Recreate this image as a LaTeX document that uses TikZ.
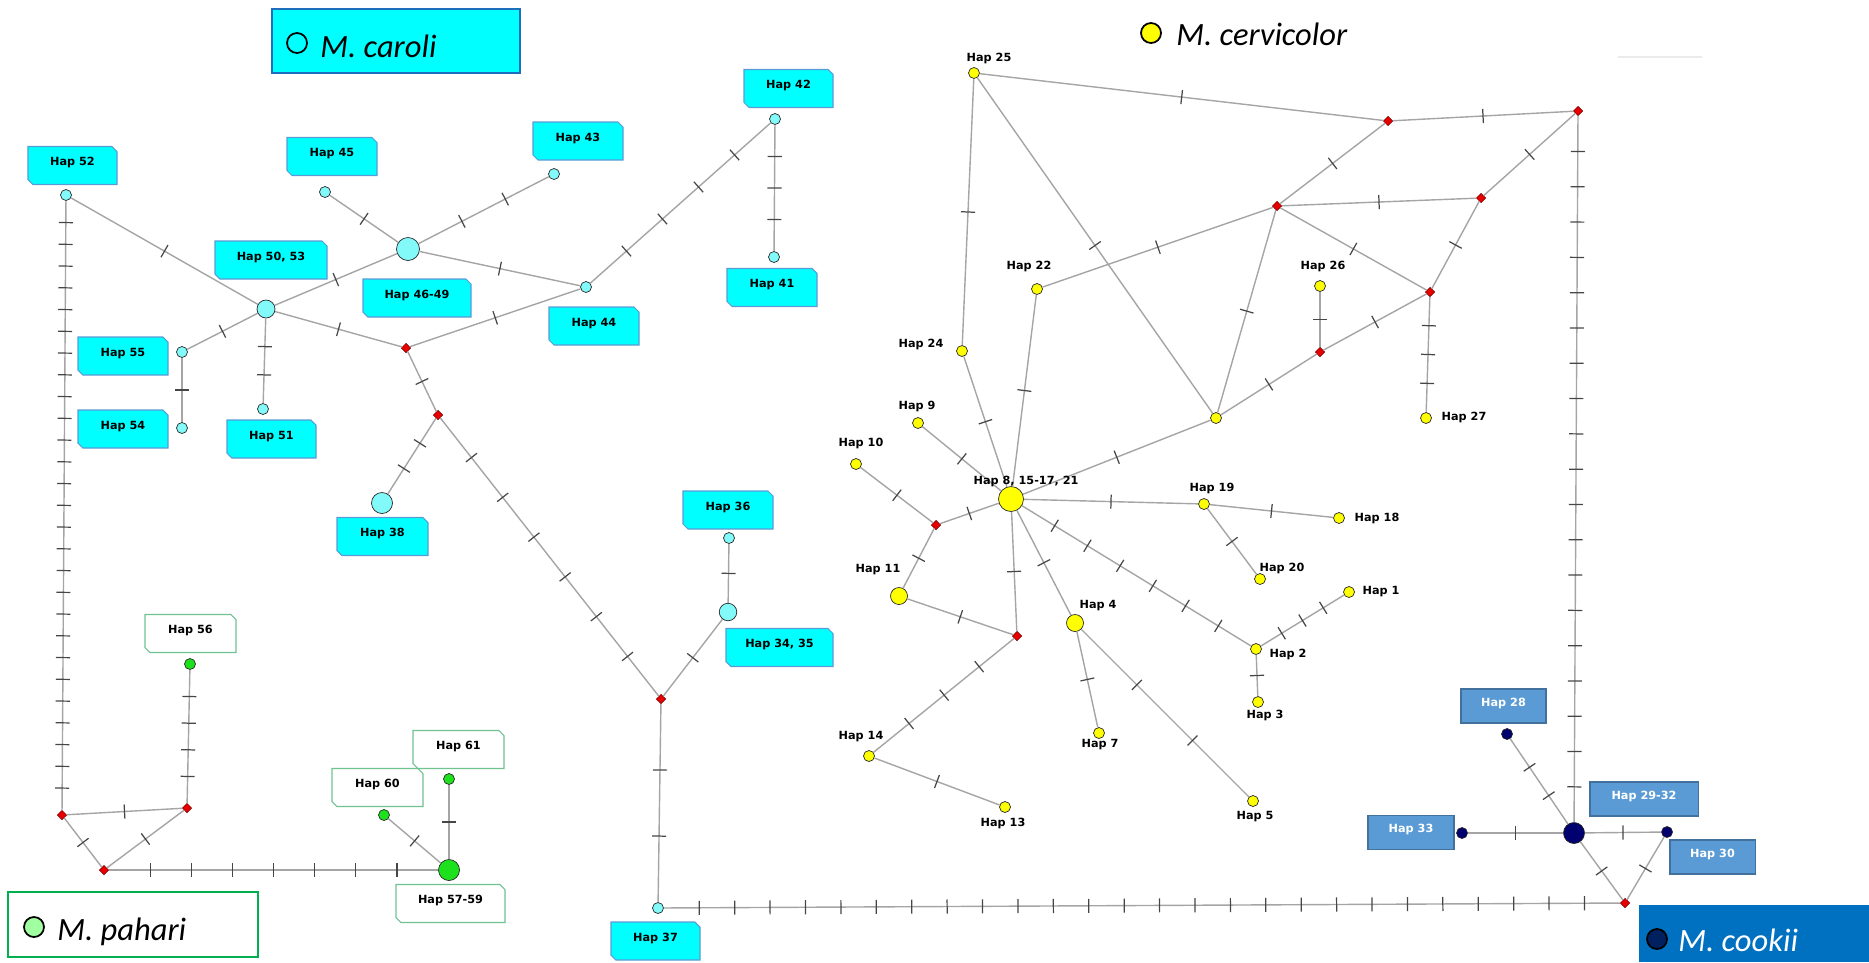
\documentclass[tikz,border=0pt]{standalone}
\usepackage{fontspec}
\usetikzlibrary{shapes.geometric,shapes.misc,decorations.markings}
\newfontfamily\hapfont{DejaVu Sans}
\newfontfamily\legfont{Carlito}
\definecolor{edgec}{RGB}{165,165,165}
\definecolor{tickc}{RGB}{70,70,70}
\definecolor{nodeline}{RGB}{40,40,40}
\definecolor{carfill}{RGB}{130,250,250}
\definecolor{carbox}{RGB}{0,255,255}
\definecolor{carline}{RGB}{91,155,213}
\definecolor{pahfill}{RGB}{30,225,30}
\definecolor{pahline}{RGB}{110,195,145}
\definecolor{cerfill}{RGB}{255,255,0}
\definecolor{coofill}{RGB}{0,0,110}
\definecolor{coobox}{RGB}{91,155,213}
\definecolor{cooline}{RGB}{65,113,156}
\definecolor{mvfill}{RGB}{230,0,0}
\definecolor{mvline}{RGB}{120,0,0}
\definecolor{legblue}{RGB}{30,110,190}
\definecolor{leggreen}{RGB}{0,176,80}
\definecolor{cookiibg}{RGB}{0,112,192}
\definecolor{cookiidot}{RGB}{0,32,96}
\definecolor{pahdot}{RGB}{160,255,160}

\begin{document}
\begin{tikzpicture}[x=0.2mm,y=-0.2mm,
    hap/.style={circle,draw=nodeline,line width=0.4pt,inner sep=0pt,minimum size=2.2mm},
    car/.style={hap,fill=carfill},
    pah/.style={hap,fill=pahfill},
    cer/.style={hap,fill=cerfill},
    coo/.style={hap,fill=coofill},
    mv/.style={diamond,draw=mvline,fill=mvfill,line width=0.3pt,inner sep=0pt,
               minimum width=1.9mm,minimum height=1.9mm},
    lab/.style={font=\hapfont\bfseries\fontsize{6.4}{7}\selectfont,inner sep=0pt},
    lcar/.style={lab,chamfered rectangle,chamfered rectangle corners={north east,south west},
                 chamfered rectangle xsep=0.5mm,chamfered rectangle ysep=0.5mm,
                 draw=carline,fill=carbox,line width=0.6pt,
                 minimum width=18mm,minimum height=7.6mm,text height=2mm,text depth=2mm},
    lpah/.style={lcar,draw=pahline,fill=white},
    lcoo/.style={lab,rectangle,draw=cooline,fill=coobox,text=white,line width=0.6pt,
                 minimum width=17mm,minimum height=6.8mm,text height=2mm,text depth=2mm},
    legdot/.style={circle,draw=black,line width=1pt,inner sep=0pt,minimum size=4mm},
    legtxt/.style={font=\legfont\itshape\fontsize{18.5}{20}\selectfont,inner sep=0pt,anchor=base west},
    mut/.style={postaction={decorate,decoration={markings,
        mark=between positions 1/(#1+1) and #1/(#1+1)+0.002 step 1/(#1+1)
        with {\draw[tickc,line width=0.7pt] (0,-4pt) -- (0,4pt);}}}},
    every edge/.style={draw=edgec,line width=0.8pt}]

  \useasboundingbox (0,0) rectangle (1869,962);

  % legends
  \node[draw=legblue,fill=carbox,line width=1pt,minimum width=49.6mm,minimum height=12.8mm] (gcar) at (396,41) {};
  \node[legdot,fill=carbox] (dcar) at (297,43) {};
  \node[legtxt] (tcar) at (320,57) {M. caroli};
  \node[legdot,fill=cerfill] (dcer) at (1151,33) {};
  \node[legtxt] (tcer) at (1176,45) {M. cervicolor};
  \node[draw=leggreen,fill=white,line width=1pt,minimum width=50mm,minimum height=13mm] (gpah) at (133,924.5) {};
  \node[legdot,fill=pahdot] (dpah) at (34,927) {};
  \node[legtxt] (tpah) at (57,940) {M. pahari};
  \node[fill=cookiibg,outer sep=0pt,minimum width=46mm,minimum height=11.4mm] (gcoo) at (1754,933.5) {};
  \node[legdot,fill=cookiidot] (dcoo) at (1657,939) {};
  \node[legtxt,text=white] (tcoo) at (1678,951) {M. cookii};
  \draw[black!8,line width=0.6pt] (1618,57) -- (1702,57);

  % M. caroli
  \node[car]                   (h52)   at (66,195)  {};
  \node[car]                   (h45)   at (325,192) {};
  \node[car]                   (h43)   at (554,174) {};
  \node[car,minimum size=4.6mm] (h4649) at (408,249) {};
  \node[car,minimum size=3.6mm] (h5053) at (266,309) {};
  \node[car]                   (h44)   at (586,287) {};
  \node[car]                   (h55)   at (182,352) {};
  \node[car]                   (h54)   at (182,428) {};
  \node[car]                   (h51)   at (263,409) {};
  \node[car,minimum size=4.2mm] (h38)   at (382,503) {};
  \node[car]                   (h42)   at (775,119) {};
  \node[car]                   (h41)   at (774,257) {};
  \node[car]                   (h36)   at (729,538) {};
  \node[car,minimum size=3.5mm] (h3435) at (728,612) {};
  \node[car]                   (h37)   at (658,908) {};

  % M. pahari
  \node[pah]                   (h56)   at (190,664) {};
  \node[pah,minimum size=4.2mm] (h5759) at (449,870) {};
  \node[pah]                   (h60)   at (384,815) {};
  \node[pah]                   (h61)   at (449,779) {};

  % M. cervicolor
  \node[cer]                   (h25) at (974,73)   {};
  \node[cer]                   (h22) at (1037,289) {};
  \node[cer]                   (h24) at (962,351)  {};
  \node[cer]                   (h9)  at (918,423)  {};
  \node[cer]                   (h10) at (856,464)  {};
  \node[cer]                   (y1)  at (1216,418) {};
  \node[cer]                   (h26) at (1320,286) {};
  \node[cer]                   (h27) at (1426,418) {};
  \node[cer,minimum size=5mm]  (hub) at (1011,499) {};
  \node[cer]                   (h19) at (1204,504) {};
  \node[cer]                   (h18) at (1339,518) {};
  \node[cer]                   (h20) at (1260,579) {};
  \node[cer]                   (h1)  at (1349,592) {};
  \node[cer]                   (h2)  at (1256,649) {};
  \node[cer]                   (h3)  at (1258,702) {};
  \node[cer]                   (h5)  at (1253,801) {};
  \node[cer,minimum size=3.4mm] (h11) at (899,596) {};
  \node[cer,minimum size=3.4mm] (h4)  at (1075,623) {};
  \node[cer]                   (h7)  at (1099,733) {};
  \node[cer]                   (h14) at (869,756)  {};
  \node[cer]                   (h13) at (1005,807) {};

  % M. cookii
  \node[coo]                   (h28)   at (1507,734) {};
  \node[coo,minimum size=4.2mm] (h2932) at (1574,833) {};
  \node[coo]                   (h33)   at (1462,833) {};
  \node[coo]                   (h30)   at (1667,832) {};

  % median vectors
  \node[mv] (m1)  at (406,348)  {};
  \node[mv] (m2)  at (438,415)  {};
  \node[mv] (m3)  at (661,699)  {};
  \node[mv] (m4)  at (62,815)   {};
  \node[mv] (m5)  at (187,808)  {};
  \node[mv] (m6)  at (104,870)  {};
  \node[mv] (m7)  at (1277,206) {};
  \node[mv] (m8)  at (1388,121) {};
  \node[mv] (m9)  at (1578,111) {};
  \node[mv] (m10) at (1481,198) {};
  \node[mv] (m11) at (1430,292) {};
  \node[mv] (m12) at (1320,352) {};
  \node[mv] (m13) at (936,525)  {};
  \node[mv] (m14) at (1017,636) {};
  \node[mv] (m15) at (1625,903) {};

  % connections, one tick per mutation
  \path (h52)   edge[mut=1]  (h5053)
                edge[mut=27] (m4)
        (h5053) edge[mut=1]  (h4649)
                edge[mut=1]  (m1)
                edge[mut=1]  (h55)
                edge[mut=2]  (h51)
        (h55)   edge[mut=1]  (h54)
        (h4649) edge[mut=1]  (h45)
                edge[mut=2]  (h43)
                edge[mut=1]  (h44)
        (h44)   edge[mut=1]  (m1)
                edge[mut=4]  (h42)
        (h42)   edge[mut=3]  (h41)
        (m1)    edge[mut=1]  (m2)
        (m2)    edge[mut=2]  (h38)
                edge[mut=6]  (m3)
        (m3)    edge[mut=1]  (h3435)
                edge[mut=2]  (h37)
        (h3435) edge[mut=1]  (h36)
        (h37)   edge[mut=26] (m15);

  \path (m4)    edge[mut=1]  (m5)
                edge[mut=1]  (m6)
        (m6)    edge[mut=1]  (m5)
                edge[mut=7]  (h5759)
        (m5)    edge[mut=4]  (h56)
        (h5759) edge[mut=1]  (h60)
                edge[mut=1]  (h61);

  \path (m15)   edge[mut=1]  (h2932)
                edge[mut=1]  (h30)
        (h2932) edge[mut=1]  (h30)
                edge[mut=1]  (h33)
                edge[mut=2]  (h28)
                edge[mut=19] (m9);

  \path (m9)    edge[mut=1]  (m8)
                edge[mut=1]  (m10)
        (m8)    edge[mut=1]  (h25)
                edge[mut=1]  (m7)
        (m7)    edge[mut=1]  (m10)
                edge[mut=1]  (m11)
                edge[mut=1]  (h22)
                edge[mut=1]  (y1)
        (m10)   edge[mut=1]  (m11)
        (h25)   edge[mut=1]  (y1)
                edge[mut=1]  (h24)
        (m11)   edge[mut=1]  (m12)
                edge[mut=3]  (h27)
        (m12)   edge[mut=1]  (h26)
                edge[mut=1]  (y1)
        (hub)   edge[mut=1]  (y1)
                edge[mut=1]  (h22)
                edge[mut=1]  (h24)
                edge[mut=1]  (h9)
                edge[mut=1]  (m13)
                edge[mut=1]  (m14)
                edge[mut=1]  (h4)
                edge[mut=1]  (h19)
                edge[mut=6]  (h2)
        (m13)   edge[mut=1]  (h10)
                edge[mut=1]  (h11)
        (h11)   edge[mut=1]  (m14)
        (m14)   edge[mut=3]  (h14)
        (h14)   edge[mut=1]  (h13)
        (h4)    edge[mut=1]  (h7)
                edge[mut=2]  (h5)
        (h19)   edge[mut=1]  (h18)
                edge[mut=1]  (h20)
        (h2)    edge[mut=3]  (h1)
                edge[mut=1]  (h3);

  % boxed labels
  \node[lcar,minimum width=17.8mm] (b52)   at (72.5,165.5) {Hap 52};
  \node[lcar]                      (b45)   at (332,156.5)  {Hap 45};
  \node[lcar]                      (b43)   at (578,141)    {Hap 43};
  \node[lcar,minimum width=21.6mm] (b4649) at (417,298)    {Hap 46-49};
  \node[lcar,minimum width=22.4mm] (b5053) at (271,260)    {Hap 50, 53};
  \node[lcar]                      (b44)   at (594,326)    {Hap 44};
  \node[lcar]                      (b55)   at (123,356)    {Hap 55};
  \node[lcar]                      (b54)   at (123,429)    {Hap 54};
  \node[lcar,minimum width=17.8mm] (b51)   at (271.5,439)  {Hap 51};
  \node[lcar,minimum width=18.2mm] (b38)   at (382.5,536.5) {Hap 38};
  \node[lcar,minimum width=17.8mm] (b42)   at (788.5,88.5) {Hap 42};
  \node[lcar]                      (b41)   at (772,287.5)  {Hap 41};
  \node[lcar]                      (b36)   at (728,510)    {Hap 36};
  \node[lcar,minimum width=21.4mm] (b3435) at (779.5,647.5) {Hap 34, 35};
  \node[lcar,minimum width=17.8mm] (b37)   at (655.5,941)  {Hap 37};
  \node[lpah,minimum width=18.2mm] (b56)   at (190.5,633.5) {Hap 56};
  \node[lpah,minimum width=21.8mm] (b5759) at (450.5,903.5) {Hap 57-59};
  \node[lpah,minimum width=18.2mm] (b60)   at (377.5,787.5) {Hap 60};
  \node[lpah,minimum width=18.2mm] (b61)   at (458.5,749.5) {Hap 61};
  \node[lcoo]                      (b28)   at (1503.5,706) {Hap 28};
  \node[lcoo,minimum width=21.6mm] (b2932) at (1644,799)   {Hap 29-32};
  \node[lcoo,minimum width=17.2mm] (b33)   at (1411,832.5) {Hap 33};
  \node[lcoo]                      (b30)   at (1712.5,857) {Hap 30};

  % plain labels
  \node[lab] (t25)  at (989,58)   {Hap 25};
  \node[lab] (t22)  at (1029,266) {Hap 22};
  \node[lab] (t24)  at (921,344)  {Hap 24};
  \node[lab] (t9)   at (917,406)  {Hap 9};
  \node[lab] (t10)  at (861,443)  {Hap 10};
  \node[lab] (t26)  at (1323,266) {Hap 26};
  \node[lab] (t27)  at (1464,417) {Hap 27};
  \node[lab] (thub) at (1026,481) {Hap 8, 15-17, 21};
  \node[lab] (t19)  at (1212,488) {Hap 19};
  \node[lab] (t18)  at (1377,518) {Hap 18};
  \node[lab] (t20)  at (1282,568) {Hap 20};
  \node[lab] (t1)   at (1381,592) {Hap 1};
  \node[lab] (t2)   at (1288,654) {Hap 2};
  \node[lab] (t3)   at (1265,715) {Hap 3};
  \node[lab] (t5)   at (1255,817) {Hap 5};
  \node[lab] (t11)  at (878,570)  {Hap 11};
  \node[lab] (t4)   at (1098,606) {Hap 4};
  \node[lab] (t14)  at (861,737)  {Hap 14};
  \node[lab] (t13)  at (1003,823) {Hap 13};
  \node[lab] (t7)   at (1100,745) {Hap 7};
\end{tikzpicture}
\end{document}
